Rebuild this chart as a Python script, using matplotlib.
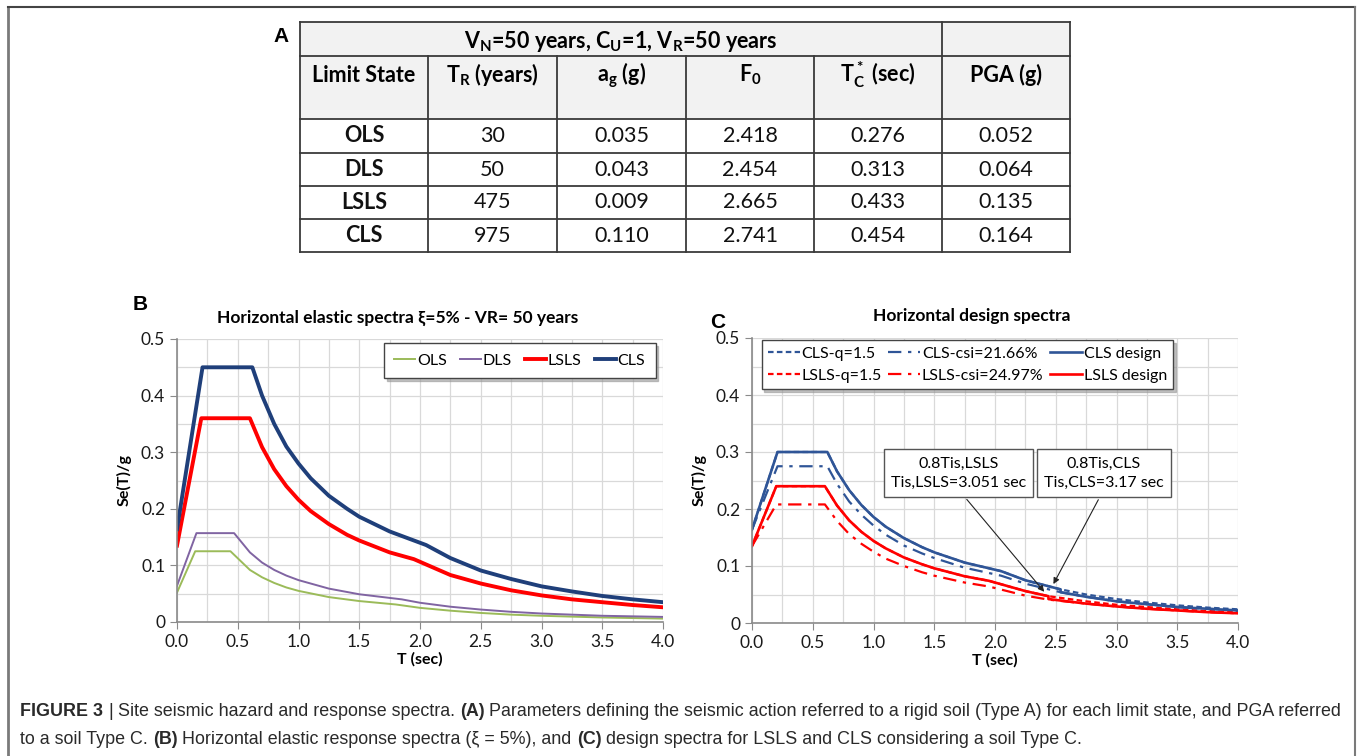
import matplotlib.pyplot as plt
from matplotlib.patches import Rectangle

W, H = 1357, 756

# ---- table A ----
table_title = r'V$\mathregular{_N}$=50 years, C$\mathregular{_U}$=1, V$\mathregular{_R}$=50 years'
table_head = ['Limit State', r'T$\mathregular{_R}$ (years)', r'a$\mathregular{_g}$ (g)',
              r'F$\mathregular{_0}$', r'T$\mathregular{^*_C}$ (sec)', 'PGA (g)']
table_states = ['OLS', 'DLS', 'LSLS', 'CLS']
table_tr = ['30', '50', '475', '975']
table_ag = ['0.035', '0.043', '0.009', '0.110']
table_f0 = ['2.418', '2.454', '2.665', '2.741']
table_tc = ['0.276', '0.313', '0.433', '0.454']
table_pga = ['0.052', '0.064', '0.135', '0.164']

# ---- B: elastic spectra ----
t_ols = [0, 0.15, 0.44, 0.6, 0.7, 0.8, 0.9, 1.0, 1.25, 1.5, 1.8, 2.0, 2.25, 2.5, 2.75, 3.0, 3.5, 4.0]
se_ols = [0.052, 0.125, 0.125, 0.092, 0.079, 0.069, 0.061, 0.055, 0.044, 0.037, 0.031, 0.025,
          0.020, 0.016, 0.013, 0.011, 0.008, 0.006]
t_dls = [0, 0.16, 0.47, 0.6, 0.7, 0.8, 0.9, 1.0, 1.25, 1.5, 1.85, 2.0, 2.25, 2.5, 2.75, 3.0, 3.5, 4.0]
se_dls = [0.064, 0.157, 0.157, 0.123, 0.105, 0.092, 0.082, 0.074, 0.059, 0.049, 0.040, 0.034,
          0.027, 0.022, 0.018, 0.015, 0.011, 0.009]
t_lsls = [0, 0.2, 0.6, 0.7, 0.8, 0.9, 1.0, 1.1, 1.25, 1.4, 1.5, 1.75, 1.95, 2.25, 2.5, 2.75,
          3.0, 3.25, 3.5, 3.75, 4.0]
se_lsls = [0.135, 0.36, 0.36, 0.309, 0.27, 0.24, 0.216, 0.196, 0.173, 0.154, 0.144, 0.123, 0.111,
           0.083, 0.068, 0.056, 0.047, 0.040, 0.035, 0.030, 0.026]
t_cls = [0, 0.21, 0.62, 0.7, 0.8, 0.9, 1.0, 1.1, 1.25, 1.4, 1.5, 1.75, 2.05, 2.25, 2.5, 2.75,
         3.0, 3.25, 3.5, 3.75, 4.0]
se_cls = [0.164, 0.45, 0.45, 0.40, 0.35, 0.31, 0.28, 0.254, 0.223, 0.20, 0.186, 0.16, 0.136,
          0.113, 0.091, 0.076, 0.063, 0.054, 0.046, 0.040, 0.035]

# ---- C: design spectra ----
tc_cls = [0, 0.21, 0.62, 0.7, 0.8, 0.9, 1.0, 1.1, 1.25, 1.4, 1.5, 1.75, 2.05, 2.25, 2.54, 2.75,
          3.0, 3.25, 3.5, 3.75, 4.0]
cls_q = [0.164, 0.30, 0.30, 0.266, 0.233, 0.207, 0.186, 0.169, 0.149, 0.133, 0.124, 0.106, 0.091,
         0.075, 0.059, 0.050, 0.042, 0.036, 0.031, 0.027, 0.024]
cls_csi = [0.164, 0.275, 0.275, 0.244, 0.213, 0.19, 0.171, 0.155, 0.136, 0.122, 0.114, 0.097,
           0.083, 0.069, 0.054, 0.046, 0.038, 0.033, 0.028, 0.025, 0.022]
tc_cls_des = [0, 0.21, 0.62, 0.7, 0.8, 0.9, 1.0, 1.1, 1.25, 1.4, 1.5, 1.75, 2.05, 2.25, 2.54,
              2.54, 2.75, 3.0, 3.25, 3.5, 3.75, 4.0]
cls_des = [0.164, 0.30, 0.30, 0.266, 0.233, 0.207, 0.186, 0.169, 0.149, 0.133, 0.124, 0.106,
           0.091, 0.075, 0.059, 0.054, 0.046, 0.038, 0.033, 0.028, 0.025, 0.022]
tc_lsls = [0, 0.2, 0.6, 0.7, 0.8, 0.9, 1.0, 1.1, 1.25, 1.4, 1.5, 1.75, 1.95, 2.25, 2.44, 2.75,
           3.0, 3.25, 3.5, 3.75, 4.0]
lsls_q = [0.135, 0.24, 0.24, 0.206, 0.18, 0.16, 0.144, 0.131, 0.115, 0.103, 0.096, 0.082, 0.074,
          0.056, 0.047, 0.038, 0.032, 0.028, 0.024, 0.021, 0.019]
lsls_csi = [0.135, 0.208, 0.208, 0.179, 0.156, 0.139, 0.125, 0.113, 0.10, 0.089, 0.083, 0.071,
            0.064, 0.048, 0.041, 0.034, 0.029, 0.025, 0.022, 0.019, 0.017]
tc_lsls_des = [0, 0.2, 0.6, 0.7, 0.8, 0.9, 1.0, 1.1, 1.25, 1.4, 1.5, 1.75, 1.95, 2.25, 2.44,
               2.44, 2.75, 3.0, 3.25, 3.5, 3.75, 4.0]
lsls_des = [0.135, 0.24, 0.24, 0.206, 0.18, 0.16, 0.144, 0.131, 0.115, 0.103, 0.096, 0.082,
            0.074, 0.056, 0.047, 0.042, 0.034, 0.029, 0.025, 0.022, 0.019, 0.017]

plt.rcParams['font.family'] = ['Lato', 'DejaVu Sans']

fig = plt.figure(figsize=(W / 100, H / 100), dpi=100)
fig.patch.set_facecolor('white')

# overlay in pixel coordinates for frame, table and caption
ov = fig.add_axes([0, 0, 1, 1])
ov.set_xlim(0, W)
ov.set_ylim(H, 0)
ov.axis('off')

# outer frame
ov.plot([7.5, 7.5], [6.5, H], color='#7a7a7a', lw=2)
ov.plot([7.5, 1355], [6.5, 6.5], color='#444444', lw=1.5)
ov.plot([1355, 1355], [6.5, H], color='#7a7a7a', lw=1.5)

# table
xs = [300, 428, 557, 686, 814, 942, 1070]
ys = [22, 56, 119, 153, 186, 219, 252]
ov.add_patch(Rectangle((xs[0], ys[0]), xs[-1] - xs[0], ys[2] - ys[0], fc='#f2f2f2', ec='none'))
lc = '#3a3a3a'
for y in ys:
    ov.plot([xs[0], xs[-1]], [y, y], color=lc, lw=1.3)
for i, x in enumerate(xs):
    y0 = ys[0] if i in (0, 5, 6) else ys[1]
    ov.plot([x, x], [y0, ys[-1]], color=lc, lw=1.3)
ov.text(621, 41, table_title, ha='center', va='center', fontsize=15.5, fontweight='bold')
xc = [(xs[i] + xs[i + 1]) / 2 for i in range(6)]
for i, h in enumerate(table_head):
    ov.text(xc[i], 75, h, ha='center', va='center', fontsize=15.5, fontweight='bold')
cols = [table_states, table_tr, table_ag, table_f0, table_tc, table_pga]
for r in range(4):
    yc = (ys[r + 2] + ys[r + 3]) / 2
    for c in range(6):
        ov.text(xc[c], yc, cols[c][r], ha='center', va='center', fontsize=15.5,
                fontweight='bold' if c == 0 else 'normal', color='#111111')
ov.text(281, 36, 'A', ha='center', va='center', fontsize=15, fontweight='bold',
        family=['Liberation Sans'])

# panel labels and chart titles
ov.text(140, 305, 'B', ha='center', va='center', fontsize=15, fontweight='bold',
        family=['Liberation Sans'])
ov.text(718, 322, 'C', ha='center', va='center', fontsize=15, fontweight='bold',
        family=['Liberation Sans'])
ov.text(398, 318, 'Horizontal elastic spectra ξ=5% - VR= 50 years', ha='center', va='center',
        fontsize=12.5, fontweight='bold')
ov.text(972, 316, 'Horizontal design spectra', ha='center', va='center',
        fontsize=12.5, fontweight='bold')


def setup(ax):
    ax.set_xlim(0, 4)
    ax.set_ylim(0, 0.5)
    ax.set_xticks([i * 0.5 for i in range(9)])
    ax.set_xticklabels(['%.1f' % (i * 0.5) for i in range(9)])
    ax.set_yticks([i * 0.1 for i in range(6)])
    ax.set_yticklabels(['0', '0.1', '0.2', '0.3', '0.4', '0.5'])
    ax.set_xticks([i * 0.25 for i in range(17)], minor=True)
    ax.set_yticks([i * 0.05 for i in range(11)], minor=True)
    ax.grid(True, which='both', color='#d9d9d9', lw=0.9)
    ax.set_axisbelow(True)
    for s in ('top', 'right'):
        ax.spines[s].set_visible(False)
    for s in ('left', 'bottom'):
        ax.spines[s].set_color('#8a8a8a')
        ax.spines[s].set_linewidth(1.2)
    ax.tick_params(which='major', direction='out', length=5, color='#8a8a8a',
                   labelsize=12.5, labelcolor='#1a1a1a')
    ax.tick_params(which='minor', length=0)
    ax.set_xlabel('T (sec)', fontsize=11.5, fontweight='bold', labelpad=2)
    ax.set_ylabel('Se(T)/g', fontsize=11.5, fontweight='bold', labelpad=7)


axB = fig.add_axes([177 / W, (H - 622) / H, 486 / W, 283 / H])
setup(axB)
axB.plot(t_ols, se_ols, color='#9bbb59', lw=1.4, label='OLS')
axB.plot(t_dls, se_dls, color='#8064a2', lw=1.4, label='DLS')
axB.plot(t_lsls, se_lsls, color='#ff0000', lw=2.8, label='LSLS')
axB.plot(t_cls, se_cls, color='#1f3f7a', lw=2.8, label='CLS')
axB.legend(loc='center', bbox_to_anchor=(0.426, 0.862, 0.559, 0.124), mode='expand',
           ncol=4, fontsize=11.5, handlelength=1.3, handletextpad=0.1, columnspacing=0.8,
           fancybox=False, edgecolor='#444444', framealpha=1, borderaxespad=0,
           borderpad=0.65, shadow={'color': '#999999', 'alpha': 0.6})

blue = '#2f5597'
red = '#ff0000'
axC = fig.add_axes([752 / W, (H - 623) / H, 486 / W, 285 / H])
setup(axC)
axC.plot(tc_cls, cls_q, color=blue, lw=1.6, dashes=(2.5, 1.5), label='CLS-q=1.5')
axC.plot(tc_lsls, lsls_q, color=red, lw=1.6, dashes=(2.5, 1.5), label='LSLS-q=1.5')
axC.plot(tc_cls, cls_csi, color=blue, lw=1.6, dashes=(6, 3, 1.5, 3), label='CLS-csi=21.66%')
axC.plot(tc_lsls, lsls_csi, color=red, lw=1.6, dashes=(6, 3, 1.5, 3), label='LSLS-csi=24.97%')
axC.plot(tc_cls_des, cls_des, color=blue, lw=1.9, label='CLS design')
axC.plot(tc_lsls_des, lsls_des, color=red, lw=1.9, label='LSLS design')
axC.legend(loc='center', bbox_to_anchor=(0.02, 0.828, 0.847, 0.158), mode='expand',
           ncol=3, fontsize=11.5, handlelength=2.0, handletextpad=0.1, columnspacing=0.8,
           labelspacing=0.5, fancybox=False, edgecolor='#444444', framealpha=1,
           borderaxespad=0, borderpad=0.4, shadow={'color': '#999999', 'alpha': 0.6})

box = dict(boxstyle='square,pad=0.45', fc='white', ec='#555555', lw=1)
arr = dict(arrowstyle='-|>', color='#222222', lw=0.8, mutation_scale=9, relpos=(0.5, 0))
axC.annotate('0.8Tis,LSLS\nTis,LSLS=3.051 sec', xy=(2.42, 0.051), xytext=(1.70, 0.263),
             ha='center', va='center', fontsize=11.5, bbox=box, arrowprops=arr,
             linespacing=1.45)
axC.annotate('0.8Tis,CLS\nTis,CLS=3.17 sec', xy=(2.47, 0.064), xytext=(2.895, 0.263),
             ha='center', va='center', fontsize=11.5, bbox=box, arrowprops=arr,
             linespacing=1.45)

# caption with mixed bold pieces
cap1 = [('FIGURE 3', True), (' | ', False), ('Site seismic hazard and response spectra. ', False),
        ('(A)', True),
        (' Parameters defining the seismic action referred to a rigid soil (Type A) for each '
         'limit state, and PGA referred', False)]
cap2 = [('to a soil Type C. ', False), ('(B)', True),
        (' Horizontal elastic response spectra (ξ = 5%), and ', False), ('(C)', True),
        (' design spectra for LSLS and CLS considering a soil Type C.', False)]
cap_fam = ['Liberation Sans Narrow', 'Liberation Sans', 'DejaVu Sans']
rend = fig.canvas.get_renderer()


def draw_line(pieces, x0, y, size, keep=True):
    made = []

    def put(x, s, bold):
        t = ov.text(x, y, s, fontsize=size, fontweight='bold' if bold else 'normal',
                    family=cap_fam, color='#2a2a2a', va='center', ha='left')
        made.append(t)
        return t.get_window_extent(rend).width

    sp = put(0, 'x x', False) - put(0, 'xx', False)
    for t in made:
        t.remove()
    made.clear()
    x = x0
    for s, bold in pieces:
        if s.startswith(' '):
            x += sp
        x += put(x, s.strip(), bold)
        if s.endswith(' '):
            x += sp
    if not keep:
        for t in made:
            t.remove()
    return x - x0


size = 13.0
w1 = draw_line(cap1, 20, 712, size, keep=False)
size = size * 1318 / w1
draw_line(cap1, 20, 712, size)
draw_line(cap2, 20, 739, size)

fig.savefig('out.png', dpi=100)
